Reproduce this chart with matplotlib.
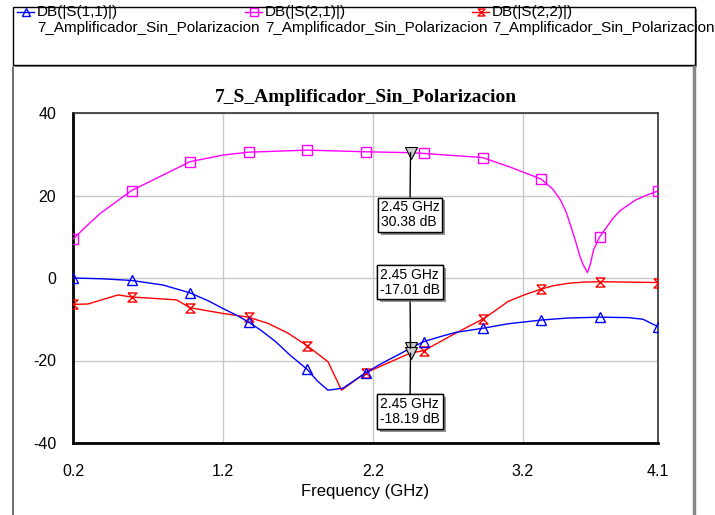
import numpy as np
import matplotlib
matplotlib.use('Agg')
import matplotlib.pyplot as plt
import matplotlib.patheffects as pe
from matplotlib.patches import Rectangle

# data (GHz, dB)
f_s11 = [0.2, 0.4, 0.59, 0.8, 0.98, 1.1, 1.2, 1.3, 1.37, 1.45, 1.55, 1.65, 1.76, 1.83, 1.9, 2.0,
         2.07, 2.15, 2.22, 2.3, 2.38, 2.45, 2.54, 2.65, 2.75, 2.93, 3.1, 3.32, 3.5, 3.71, 3.9,
         4.0, 4.1]
s11 = [0.0, -0.2, -0.6, -1.7, -3.6, -5.5, -7.4, -9.2, -10.7, -12.6, -15.4, -18.8, -22.1, -25.0,
       -27.2, -26.7, -25.0, -23.0, -21.5, -19.9, -18.4, -17.01, -15.4, -14.2, -13.2, -12.2, -11.1,
       -10.2, -9.7, -9.5, -9.6, -10.0, -11.8]

f_s21 = [0.2, 0.29, 0.38, 0.59, 0.78, 0.98, 1.2, 1.37, 1.76, 2.15, 2.45, 2.54, 2.93, 3.12, 3.32,
         3.4, 3.45, 3.49, 3.52, 3.55, 3.58, 3.6, 3.63, 3.65, 3.67, 3.69, 3.71, 3.8, 3.85, 3.95,
         4.02, 4.1]
s21 = [9.4, 12.6, 15.6, 21.2, 24.6, 28.2, 29.8, 30.5, 31.0, 30.6, 30.38, 30.2, 29.2, 26.8, 24.0,
       21.5, 18.9, 15.8, 12.4, 9.0, 5.2, 3.3, 1.3, 3.5, 6.8, 8.3, 9.9, 14.5, 16.4, 18.9,
       20.0, 21.1]

f_s22 = [0.2, 0.3, 0.5, 0.59, 0.89, 0.98, 1.2, 1.37, 1.5, 1.63, 1.76, 1.9, 1.99, 2.15, 2.3,
         2.45, 2.54, 2.65, 2.75, 2.85, 2.93, 3.0, 3.1, 3.2, 3.32, 3.4, 3.5, 3.6, 3.71, 4.1]
s22 = [-6.4, -6.3, -4.1, -4.6, -5.3, -7.2, -8.6, -9.5, -11.0, -13.3, -16.4, -20.3, -27.2, -23.0,
       -20.6, -18.19, -17.6, -15.4, -13.4, -11.5, -10.0, -8.3, -5.7, -4.2, -2.7, -1.9, -1.3,
       -1.0, -0.9, -1.1]

marker_f = [0.2, 0.59, 0.98, 1.37, 1.76, 2.15, 2.54, 2.93, 3.32, 3.71, 4.1]

tune_f = 2.45
tune_vals = [30.38, -17.01, -18.19]
tune_labels = ['2.45 GHz\n30.38 dB', '2.45 GHz\n-17.01 dB', '2.45 GHz\n-18.19 dB']

legend_names = ['DB(|S(1,1)|)', 'DB(|S(2,1)|)', 'DB(|S(2,2)|)']
source_name = '7_Amplificador_Sin_Polarizacion'

plt.rcParams['font.family'] = ['Liberation Sans', 'DejaVu Sans']
plt.rcParams['axes.unicode_minus'] = False

hourglass = [(-1, 1), (1, 1), (-1, -1), (1, -1), (-1, 1)]

W, H = 715, 515
fig = plt.figure(figsize=(W/100, H/100), dpi=100)

# overlay in pixel coords for legend box and frame
bg = fig.add_axes([0, 0, 1, 1])
bg.set_xlim(0, W)
bg.set_ylim(H, 0)
bg.axis('off')

# legend box with shadow
bg.add_patch(Rectangle((15, 9), 682, 58, facecolor='#888888', edgecolor='none'))
bg.add_patch(Rectangle((13, 7), 682, 58, facecolor='white', edgecolor='black', lw=1))
# outer plot frame
bg.plot([13, 13], [67, H], color='#555555', lw=1.2)
bg.plot([694, 694], [67, H], color='#888888', lw=2.5)

leg_styles = [dict(color='blue', marker='^', ms=6),
              dict(color='magenta', marker='s', ms=6),
              dict(color='red', marker=hourglass, ms=5)]
leg_x = [17, 245, 472]
for x0, name, st in zip(leg_x, legend_names, leg_styles):
    bg.plot([x0, x0+17], [12, 12], color=st['color'], lw=1)
    bg.plot([x0+8.5], [12], color=st['color'], marker=st['marker'], ms=st['ms'],
            mfc='none', mew=1)
    bg.text(x0+20, 12, name, fontsize=11, va='center', ha='left')
    bg.text(x0+20, 28, source_name, fontsize=11, va='center', ha='left')

ax = fig.add_axes([73/W, 1-443/H, 585/W, 330/H])

def mask(f):
    return np.isclose(np.array(f)[:, None], np.array(marker_f)[None, :]).any(axis=1)

ax.plot(f_s21, s21, color='magenta', lw=1, marker='s', ms=7.5, mfc='none', mew=1,
        markevery=list(mask(f_s21)), zorder=3)
ax.plot(f_s22, s22, color='red', lw=1, marker=hourglass, ms=6.5, mfc='none', mew=1,
        markevery=list(mask(f_s22)), zorder=3)
ax.plot(f_s11, s11, color='blue', lw=1, marker='^', ms=7.5, mfc='none', mew=1,
        markevery=list(mask(f_s11)), zorder=4)

# tuning markers
ax.plot([tune_f]*3, tune_vals, linestyle='none', marker='v', ms=8, mfc='#cccccc',
        mec='black', mew=0.8, zorder=5)

box_pos = [(2.447, 15.3, (0.5, 1)), (2.447, -1.0, (0.5, 0)), (2.447, -32.4, (0.5, 1))]
for val, lab, (bx, by, rp) in zip(tune_vals, tune_labels, box_pos):
    a = ax.annotate(lab, xy=(tune_f, val), xytext=(bx, by), fontsize=10, ha='center',
                    va='center', multialignment='left', linespacing=1.1, zorder=6,
                    bbox=dict(boxstyle='square,pad=0.2', facecolor='white', edgecolor='black', lw=1),
                    arrowprops=dict(arrowstyle='-', color='black', lw=1, relpos=rp,
                                    shrinkA=0, shrinkB=0))
    a.get_bbox_patch().set_path_effects([pe.withSimplePatchShadow(offset=(2, -2),
                                         shadow_rgbFace='#777777', alpha=0.8), pe.Normal()])

ax.set_xlim(0.2, 4.1)
ax.set_ylim(-40, 40)
ax.set_xticks([0.2, 1.2, 2.2, 3.2, 4.1])
ax.set_xticklabels(['0.2', '1.2', '2.2', '3.2', '4.1'])
ax.set_yticks([-40, -20, 0, 20, 40])
ax.tick_params(length=0, labelsize=11.5)
ax.tick_params(axis='x', pad=15)
ax.tick_params(axis='y', pad=12)
ax.grid(True, color='#c8c8c8', lw=1)
for sp in ['left', 'bottom']:
    ax.spines[sp].set_linewidth(2)
for sp in ['top', 'right']:
    ax.spines[sp].set_linewidth(1.2)
    ax.spines[sp].set_color('#333333')

ax.set_xlabel('Frequency (GHz)', fontsize=12, labelpad=4)
ax.set_title('7_S_Amplificador_Sin_Polarizacion', fontsize=14, fontweight='bold',
             family='Liberation Serif', pad=8)

plt.savefig('out.png', dpi=100)
